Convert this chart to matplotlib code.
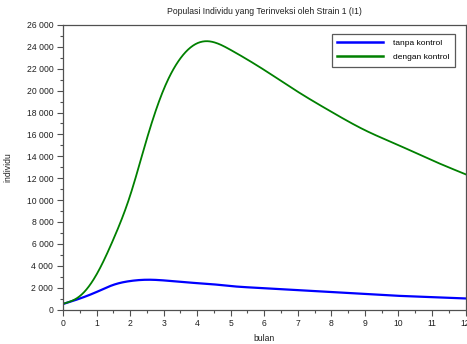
import numpy as np
import matplotlib.pyplot as plt
from matplotlib.ticker import MultipleLocator, FuncFormatter

plt.rcParams['font.family'] = ['Liberation Sans', 'DejaVu Sans']

# waktu (bulan) dan jumlah individu terinfeksi strain 1
bulan = [0, 0.5, 1, 1.5, 2, 2.5, 3, 3.5, 4, 4.3, 5, 6, 7, 8, 9, 10, 11, 12]
tanpa_kontrol = [500, 1000, 1600, 2250, 2600, 2720, 2660, 2530, 2410, 2350,
                 2140, 1950, 1770, 1590, 1410, 1250, 1130, 1010]
dengan_kontrol = [520, 1220, 3200, 6400, 10400, 15600, 20100, 22950, 24330, 24520,
                  23720, 21890, 19900, 18070, 16390, 15020, 13640, 12360]


def spline(x, y, n=500):
    # spline kubik natural
    x = np.asarray(x, float)
    y = np.asarray(y, float)
    N = len(x)
    h = np.diff(x)
    A = np.zeros((N, N))
    b = np.zeros(N)
    A[0, 0] = A[-1, -1] = 1
    for i in range(1, N - 1):
        A[i, i - 1] = h[i - 1]
        A[i, i] = 2 * (h[i - 1] + h[i])
        A[i, i + 1] = h[i]
        b[i] = 6 * ((y[i + 1] - y[i]) / h[i] - (y[i] - y[i - 1]) / h[i - 1])
    M = np.linalg.solve(A, b)
    xs = np.linspace(x[0], x[-1], n)
    k = np.clip(np.searchsorted(x, xs) - 1, 0, N - 2)
    a = x[k + 1] - xs
    c = xs - x[k]
    hk = h[k]
    ys = (M[k] * a**3 / (6 * hk) + M[k + 1] * c**3 / (6 * hk)
          + (y[k] / hk - M[k] * hk / 6) * a + (y[k + 1] / hk - M[k + 1] * hk / 6) * c)
    return xs, ys


fig = plt.figure(figsize=(4.67, 3.44), dpi=100)
ax = fig.add_axes([63 / 467, 34.5 / 344, 402.5 / 467, 284.5 / 344])

xb, yb = spline(bulan, tanpa_kontrol)
xg, yg = spline(bulan, dengan_kontrol)
ax.plot(xb, yb, color='#0000ff', lw=1.6, label='tanpa kontrol')
ax.plot(xg, yg, color='#008000', lw=1.3, label='dengan kontrol')

ax.set_xlim(0, 12)
ax.set_ylim(0, 26000)
ax.xaxis.set_major_locator(MultipleLocator(1))
ax.xaxis.set_minor_locator(MultipleLocator(0.5))
ax.yaxis.set_major_locator(MultipleLocator(2000))
ax.yaxis.set_minor_locator(MultipleLocator(1000))
ax.yaxis.set_major_formatter(FuncFormatter(lambda v, p: f'{int(v):,}'.replace(',', ' ')))

for s in ax.spines.values():
    s.set_color('#505050')
    s.set_linewidth(0.9)
ax.tick_params(which='major', direction='out', length=4, width=0.8,
               colors='#505050', labelcolor='#202020', labelsize=6.2, pad=3)
ax.tick_params(which='minor', direction='out', length=2, width=0.8, colors='#505050')

ax.set_title('Populasi Individu yang Terinveksi oleh Strain 1 (I1)',
             fontsize=6.2, color='#202020', pad=8)
ax.set_xlabel('bulan', fontsize=6.2, color='#202020', labelpad=4)
ax.set_ylabel('individu', fontsize=6.2, color='#202020', labelpad=10)

leg = ax.legend(loc='upper right', bbox_to_anchor=(0.975, 0.97), fontsize=6,
                frameon=True, fancybox=False, handlelength=5.5, handletextpad=1.2,
                borderpad=0.7, labelspacing=0.7, borderaxespad=0)
leg.get_frame().set_edgecolor('#303030')
leg.get_frame().set_linewidth(0.9)
for line in leg.get_lines():
    line.set_linewidth(1.8)

fig.savefig('out.png', dpi=100)
